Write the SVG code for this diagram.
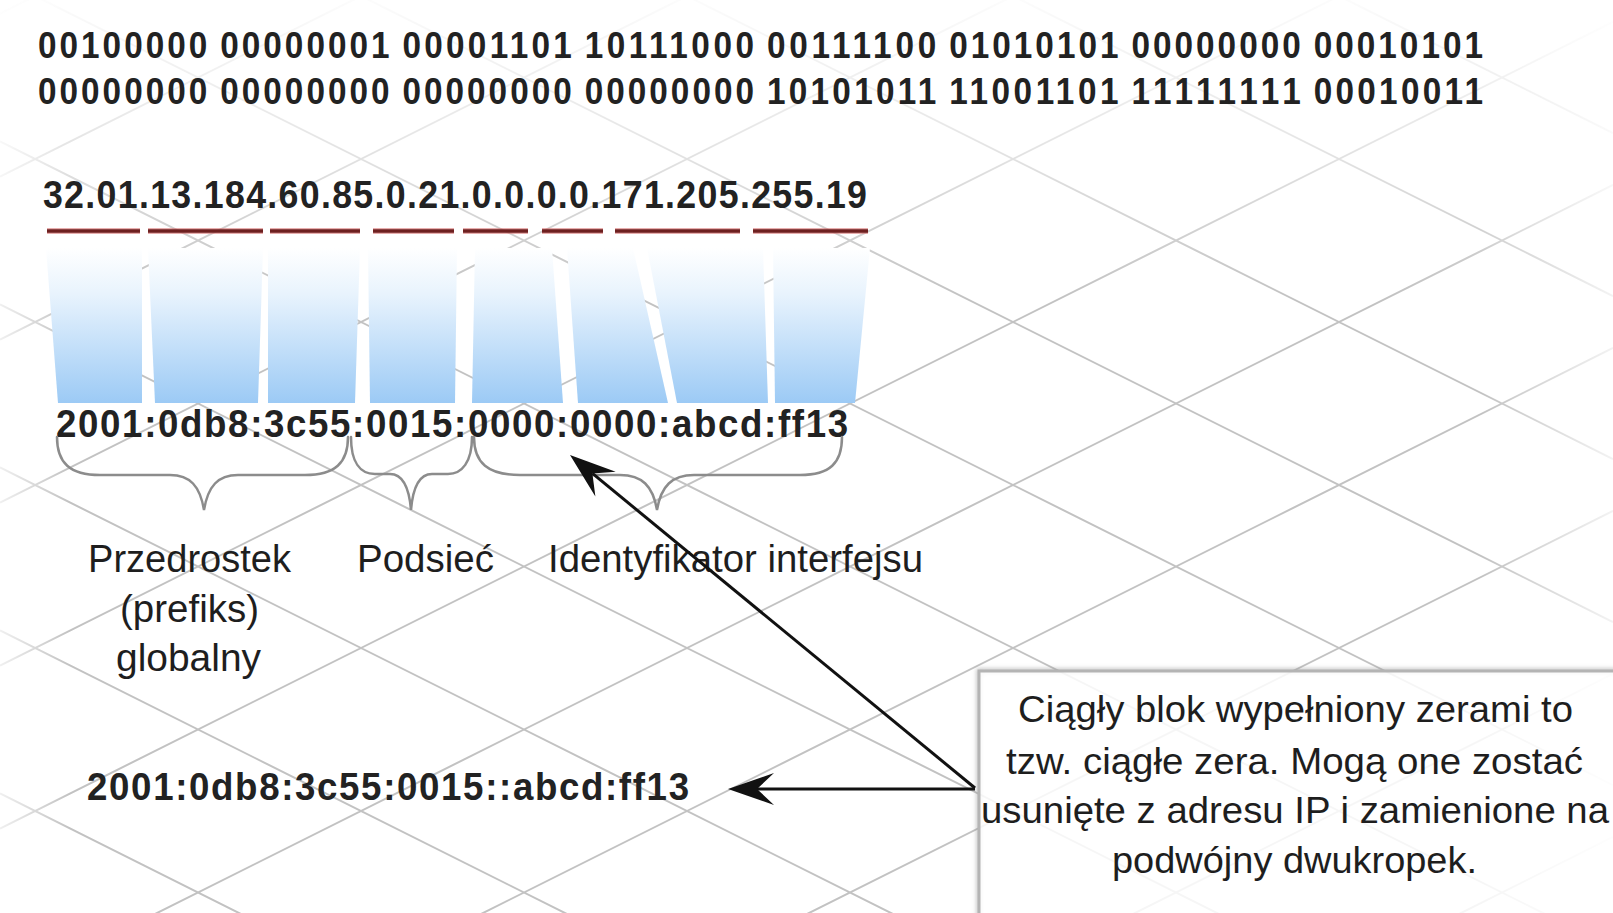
<svg xmlns="http://www.w3.org/2000/svg" width="1613" height="913" viewBox="0 0 1613 913">
  <defs>
    <style>
      .num { font-family: "Liberation Sans", Arial, sans-serif; font-weight: bold; fill: #222; }
      .bin { font-size: 37px; }
      .lbl { font-family: "Liberation Sans", Arial, sans-serif; fill: #1e1e1e; }
      .grid { stroke: #c2c2c2; stroke-width: 2; fill: none; }
      .dash-glow { stroke: #d46a6a; stroke-width: 6; stroke-opacity: 0.55; }
      .dash { stroke: #6e2020; stroke-width: 3.5; }
      .brace { fill: none; stroke: #8c8c8c; stroke-width: 2.5; stroke-linecap: round; }
      .bar { fill: url(#barFill); }
      .conn { stroke: #111; stroke-width: 3; fill: none; }
    </style>
    <linearGradient id="barFill" gradientUnits="userSpaceOnUse" x1="0" y1="248" x2="0" y2="403">
      <stop offset="0" stop-color="#ffffff"/>
      <stop offset="0.3" stop-color="#e8f3fd"/>
      <stop offset="1" stop-color="#9ccaf5"/>
    </linearGradient>
    <linearGradient id="fadeTop" x1="0" y1="0" x2="0" y2="1">
      <stop offset="0" stop-color="#fff" stop-opacity="0.95"/>
      <stop offset="0.45" stop-color="#fff" stop-opacity="0.6"/>
      <stop offset="1" stop-color="#fff" stop-opacity="0"/>
    </linearGradient>
    <linearGradient id="fadeLeft" x1="0" y1="0" x2="1" y2="0">
      <stop offset="0" stop-color="#fff" stop-opacity="0.75"/>
      <stop offset="1" stop-color="#fff" stop-opacity="0"/>
    </linearGradient>
    <linearGradient id="fadeRight" x1="0" y1="0" x2="1" y2="0">
      <stop offset="0" stop-color="#fff" stop-opacity="0"/>
      <stop offset="1" stop-color="#fff" stop-opacity="0.8"/>
    </linearGradient>
    <filter id="soft" x="-5%" y="-10%" width="110%" height="120%">
      <feGaussianBlur stdDeviation="2"/>
    </filter>
    <marker id="head" markerUnits="userSpaceOnUse" viewBox="-20 -18 52 36" markerWidth="52" markerHeight="36" refX="0" refY="0" orient="auto">
      <path d="M29,0 L-17,-16 L0,0 L-17,16 Z" fill="#111"/>
    </marker>
  </defs>

  <!-- backdrop: white plane with a diagonal lattice -->
  <rect width="1613" height="913" fill="#ffffff"/>
  <path class="grid" d="M0,-673.5 L1613,133 M0,-510.5 L1613,296 M0,-347.5 L1613,459 M0,-184.5 L1613,622 M0,-21.5 L1613,785 M0,141.5 L1613,948 M0,304.5 L1613,1111 M0,467.5 L1613,1274 M0,630.5 L1613,1437 M0,793.5 L1613,1600 M0,13.5 L1613,-793 M0,176.5 L1613,-630 M0,339.5 L1613,-467 M0,502.5 L1613,-304 M0,665.5 L1613,-141 M0,828.5 L1613,22 M0,991.5 L1613,185 M0,1154.5 L1613,348 M0,1317.5 L1613,511 M0,1480.5 L1613,674 M0,1643.5 L1613,837"/>
  <rect x="0" y="0" width="1613" height="300" fill="url(#fadeTop)"/>
  <rect x="0" y="0" width="70" height="913" fill="url(#fadeLeft)"/>
  <rect x="1480" y="0" width="133" height="913" fill="url(#fadeRight)"/>

  <!-- binary form: one text per octet, slightly condensed -->
  <g id="binary" class="num bin" transform="scale(0.9 1)">
    <text x="42.2" y="58" textLength="188.1" lengthAdjust="spacing">00100000</text>
    <text x="244.7" y="58" textLength="188.1" lengthAdjust="spacing">00000001</text>
    <text x="447.2" y="58" textLength="188.1" lengthAdjust="spacing">00001101</text>
    <text x="649.7" y="58" textLength="188.1" lengthAdjust="spacing">10111000</text>
    <text x="852.2" y="58" textLength="188.1" lengthAdjust="spacing">00111100</text>
    <text x="1054.7" y="58" textLength="188.1" lengthAdjust="spacing">01010101</text>
    <text x="1257.2" y="58" textLength="188.1" lengthAdjust="spacing">00000000</text>
    <text x="1459.7" y="58" textLength="188.1" lengthAdjust="spacing">00010101</text>
    <text x="42.2" y="104" textLength="188.1" lengthAdjust="spacing">00000000</text>
    <text x="244.7" y="104" textLength="188.1" lengthAdjust="spacing">00000000</text>
    <text x="447.2" y="104" textLength="188.1" lengthAdjust="spacing">00000000</text>
    <text x="649.7" y="104" textLength="188.1" lengthAdjust="spacing">00000000</text>
    <text x="852.2" y="104" textLength="188.1" lengthAdjust="spacing">10101011</text>
    <text x="1054.7" y="104" textLength="188.1" lengthAdjust="spacing">11001101</text>
    <text x="1257.2" y="104" textLength="188.1" lengthAdjust="spacing">11111111</text>
    <text x="1459.7" y="104" textLength="188.1" lengthAdjust="spacing">00010011</text>
  </g>

  <!-- dotted decimal form with group underlines -->
  <g id="decimal">
    <text class="num" transform="scale(0.94 1)" x="45.7" y="208" font-size="38" textLength="876.6" lengthAdjust="spacing">32.01.13.184.60.85.0.21.0.0.0.0.171.205.255.19</text>
    <g class="dash-glow">
      <line x1="47" y1="231" x2="140" y2="231"/>
      <line x1="148" y1="231" x2="263" y2="231"/>
      <line x1="270" y1="231" x2="360" y2="231"/>
      <line x1="373" y1="231" x2="454" y2="231"/>
      <line x1="463" y1="231" x2="528" y2="231"/>
      <line x1="542" y1="231" x2="603" y2="231"/>
      <line x1="615" y1="231" x2="740" y2="231"/>
      <line x1="753" y1="231" x2="868" y2="231"/>
    </g>
    <g class="dash">
      <line x1="47" y1="231" x2="140" y2="231"/>
      <line x1="148" y1="231" x2="263" y2="231"/>
      <line x1="270" y1="231" x2="360" y2="231"/>
      <line x1="373" y1="231" x2="454" y2="231"/>
      <line x1="463" y1="231" x2="528" y2="231"/>
      <line x1="542" y1="231" x2="603" y2="231"/>
      <line x1="615" y1="231" x2="740" y2="231"/>
      <line x1="753" y1="231" x2="868" y2="231"/>
    </g>
  </g>

  <!-- mapping columns -->
  <g id="columns">
    <polygon class="bar" points="46,248 142,248 142,403 58,403"/>
    <polygon class="bar" points="148,248 263,248 258,403 155,403"/>
    <polygon class="bar" points="268,248 360,248 355,403 268,403"/>
    <polygon class="bar" points="368,248 457,248 455,403 370,403"/>
    <polygon class="bar" points="475,248 552,248 563,403 472,403"/>
    <polygon class="bar" points="567,248 633,248 668,403 578,403"/>
    <polygon class="bar" points="647,248 763,248 768,403 677,403"/>
    <polygon class="bar" points="773,248 870,248 855,403 775,403"/>
  </g>

  <!-- full hexadecimal form -->
  <g id="hex-full">
    <text class="num" transform="scale(0.94 1)" x="59.6" y="437" font-size="39" textLength="842.6" lengthAdjust="spacing">2001:0db8:3c55:0015:0000:0000:abcd:ff13</text>
  </g>

  <!-- field braces -->
  <g id="braces">
    <path class="brace" d="M57,437 C57,463 70,475 100,475 L170,475 C190,475 200,486 204,510 C208,486 218,475 238,475 L305,475 C335,475 348,463 348,437"/>
    <path class="brace" d="M351,437 C351,462 360,474 375,474 L390,474 C402,474 409,486 411,510 C413,486 420,474 432,474 L448,474 C462,474 472,462 472,437"/>
    <path class="brace" d="M474,437 C474,463 488,475 520,475 L620,475 C642,475 653,486 657,510 C661,486 672,475 694,475 L800,475 C830,475 842,463 842,437"/>
  </g>

  <g id="label-prefix">
    <text class="lbl" x="88" y="572" font-size="38" textLength="203" lengthAdjust="spacingAndGlyphs">Przedrostek</text>
    <text class="lbl" x="120" y="622" font-size="38" textLength="139" lengthAdjust="spacingAndGlyphs">(prefiks)</text>
    <text class="lbl" x="116" y="671" font-size="38" textLength="145" lengthAdjust="spacingAndGlyphs">globalny</text>
  </g>
  <g id="label-subnet">
    <text class="lbl" x="357" y="572" font-size="38" textLength="137" lengthAdjust="spacingAndGlyphs">Podsieć</text>
  </g>
  <g id="label-interface">
    <text class="lbl" x="548" y="572" font-size="38" textLength="375" lengthAdjust="spacingAndGlyphs">Identyfikator interfejsu</text>
  </g>

  <!-- compressed form -->
  <g id="hex-short">
    <text class="num" transform="scale(0.94 1)" x="92.6" y="800" font-size="39" textLength="640.4" lengthAdjust="spacing">2001:0db8:3c55:0015::abcd:ff13</text>
  </g>

  <!-- explanatory note -->
  <g id="note">
    <rect x="979" y="671" width="640" height="270" fill="none" stroke="#8a8a8a" stroke-width="5" opacity="0.5" filter="url(#soft)"/>
    <rect x="979" y="671" width="640" height="270" fill="#ffffff" fill-opacity="0.85" stroke="#b4b4b4" stroke-width="3"/>
    <text class="lbl" x="1018" y="722" font-size="37" textLength="555" lengthAdjust="spacingAndGlyphs">Ciągły blok wypełniony zerami to</text>
    <text class="lbl" x="1006" y="774" font-size="37" textLength="577" lengthAdjust="spacingAndGlyphs">tzw. ciągłe zera. Mogą one zostać</text>
    <text class="lbl" x="981" y="823" font-size="37" textLength="628" lengthAdjust="spacingAndGlyphs">usunięte z adresu IP i zamienione na</text>
    <text class="lbl" x="1112" y="873" font-size="37" textLength="365" lengthAdjust="spacingAndGlyphs">podwójny dwukropek.</text>
  </g>

  <!-- pointers from the note -->
  <g id="connectors">
    <line class="conn" x1="975" y1="788" x2="592.4" y2="473.4" marker-end="url(#head)"/>
    <line class="conn" x1="975" y1="789" x2="757" y2="789" marker-end="url(#head)"/>
  </g>
</svg>
